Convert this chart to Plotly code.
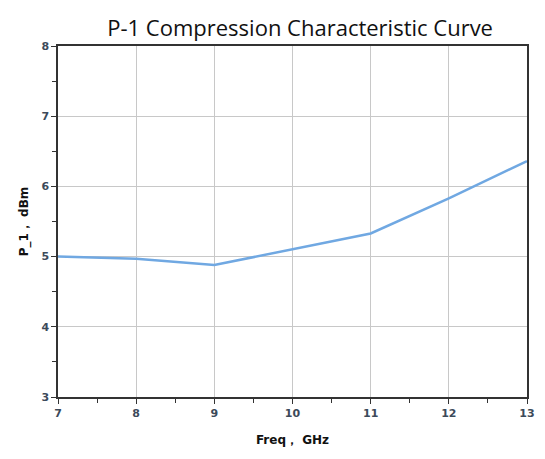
import plotly.graph_objects as go

freq = [7, 8, 9, 10, 11, 12, 13]
p1 = [5.0, 4.97, 4.88, 5.1, 5.33, 5.83, 6.36]
x_ticks = [7, 8, 9, 10, 11, 12, 13]
y_ticks = [3, 4, 5, 6, 7, 8]

fig = go.Figure()
fig.add_trace(go.Scatter(x=freq, y=p1, mode="lines",
                         line=dict(color="#70a8e2", width=2.5)))

axis_common = dict(
    showline=True, linecolor="#333333", linewidth=1.5, mirror=True,
    showgrid=True, gridcolor="#c8c8c8", gridwidth=1,
    ticks="outside", ticklen=5, tickcolor="#333333",
    tickfont=dict(family="DejaVu Sans", size=11, color="#3c4a5a", weight="bold"),
    zeroline=False,
)

fig.update_layout(
    width=545, height=459,
    paper_bgcolor="white", plot_bgcolor="white",
    margin=dict(l=50, r=26, t=38, b=70),
    showlegend=False,
    title=dict(text="P-1 Compression Characteristic Curve",
               x=0.536, xanchor="center", y=0.955, yanchor="middle",
               font=dict(family="Open Sans", size=22, color="#111111")),
    xaxis=dict(range=[7, 13], tickvals=x_ticks,
               minor=dict(dtick=0.5, ticks="outside", ticklen=4, tickcolor="#333333", showgrid=False),
               title=dict(text="<b>Freq， GHz</b>", standoff=17,
                          font=dict(family="DejaVu Sans", size=12, color="#111111")),
               **axis_common),
    yaxis=dict(range=[3, 8], tickvals=y_ticks,
               minor=dict(dtick=0.5, ticks="outside", ticklen=4, tickcolor="#333333", showgrid=False),
               title=dict(text="<b>P_1， dBm</b>", standoff=10,
                          font=dict(family="DejaVu Sans", size=12, color="#111111")),
               **axis_common),
)

fig.write_html("out.html")
